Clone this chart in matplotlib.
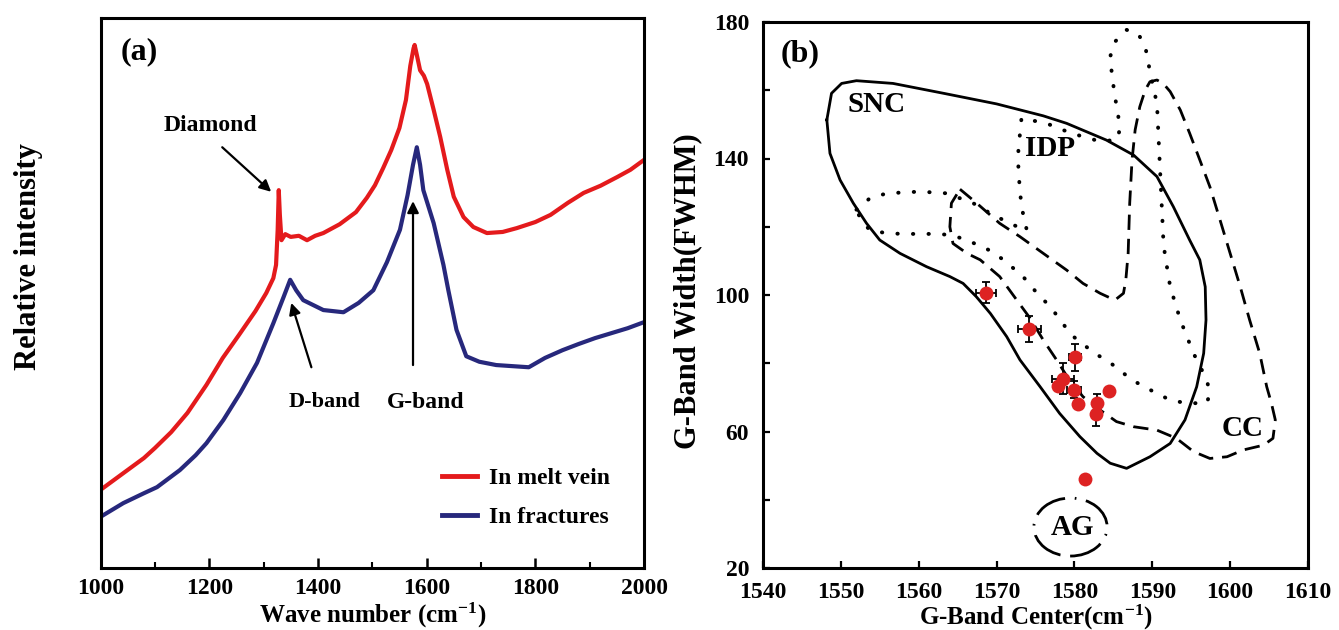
import matplotlib
matplotlib.use("Agg")
import matplotlib.pyplot as plt
from matplotlib.patches import Ellipse
from matplotlib.ticker import FixedLocator, MultipleLocator

plt.rcParams['font.family'] = ['Liberation Serif', 'DejaVu Serif']
plt.rcParams['font.weight'] = 'bold'
plt.rcParams['mathtext.fontset'] = 'custom'
plt.rcParams['mathtext.rm'] = 'Liberation Serif:bold'
plt.rcParams['mathtext.bf'] = 'Liberation Serif:bold'
plt.rcParams['mathtext.default'] = 'bf'

# ---------------- Panel (a): Raman spectra ----------------
melt_wn = [1000, 1040, 1080, 1100, 1130, 1160, 1195, 1225, 1255, 1285, 1305, 1318,
           1323, 1326, 1328, 1330, 1333, 1340, 1350, 1365, 1380, 1395, 1410, 1440,
           1470, 1490, 1505, 1520, 1535, 1550, 1562, 1570, 1576, 1578, 1582, 1588,
           1595, 1601, 1613, 1625, 1638, 1650, 1668, 1686, 1711, 1740, 1766, 1800,
           1828, 1860, 1889, 1920, 1951, 1975, 2000]
melt_int = [14.2, 17.1, 20.0, 21.8, 24.7, 28.2, 33.3, 38.2, 42.4, 46.7, 50.0, 52.7,
            55.1, 61.5, 68.7, 64.2, 59.6, 60.7, 60.2, 60.4, 59.6, 60.4, 60.9, 62.5,
            64.7, 67.3, 69.6, 72.7, 76.0, 80.0, 85.1, 91.3, 94.5, 95.1, 93.3, 90.5,
            89.5, 88.0, 83.3, 78.4, 72.4, 67.5, 63.8, 62.0, 60.9, 61.1, 61.8, 62.9,
            64.2, 66.4, 68.2, 69.5, 71.1, 72.4, 74.2]

frac_wn = [1000, 1042, 1080, 1104, 1146, 1175, 1195, 1226, 1257, 1288, 1318, 1337,
           1349, 1360, 1373, 1410, 1447, 1475, 1502, 1527, 1551, 1565, 1575, 1582,
           1588, 1594, 1613, 1631, 1640, 1655, 1673, 1697, 1728, 1758, 1788, 1818,
           1850, 1879, 1910, 1940, 1970, 2000]
frac_int = [9.3, 11.8, 13.6, 14.7, 17.8, 20.5, 22.7, 26.9, 31.8, 37.3, 44.5, 49.3,
            52.4, 50.5, 48.7, 46.9, 46.5, 48.2, 50.5, 55.6, 61.5, 67.8, 73.3, 76.5,
            73.3, 68.7, 62.7, 55.1, 50.5, 43.3, 38.5, 37.5, 36.9, 36.7, 36.5, 38.2,
            39.6, 40.7, 41.8, 42.7, 43.6, 44.7]

series_labels = ['In melt vein', 'In fractures']
series_colors = ['#e41a1c', '#27287c']

# ---------------- Panel (b): G-band parameters ----------------
g_center = [1568.6, 1574.2, 1580.1, 1578.5, 1577.9, 1579.9, 1580.5, 1582.9, 1582.8, 1584.4, 1581.4]
g_width = [100.7, 90.0, 81.7, 75.5, 73.3, 72.2, 68.0, 68.4, 65.1, 72.0, 46.2]
g_center_err = [1.3, 1.5, 0.8, 1.4, 0.0, 0.9, 0.0, 0.5, 0.4, 0.0, 0.0]
g_width_err = [3.1, 3.7, 3.9, 4.6, 0.0, 2.5, 0.0, 2.5, 3.4, 0.0, 0.0]

snc_x = [1548.2, 1548.8, 1550.1, 1552.0, 1556.7, 1563.2, 1570.0, 1576.0, 1579.0, 1584.1,
         1587.6, 1590.6, 1592.7, 1594.8, 1596.1, 1596.8, 1596.9, 1596.6, 1595.7, 1594.2,
         1592.3, 1589.7, 1586.7, 1584.6, 1582.9, 1580.7, 1578.1, 1575.6, 1573.0, 1571.3,
         1569.2, 1567.4, 1565.7, 1564.0, 1561.0, 1557.6, 1555.0, 1553.3, 1551.6, 1549.9,
         1548.6, 1548.2]
snc_y = [151.3, 159.1, 162.0, 162.8, 162.0, 159.1, 156.0, 152.5, 150.3, 145.4,
         141.0, 134.7, 125.9, 116.1, 110.3, 102.4, 92.7, 82.9, 73.1, 63.4,
         56.5, 52.6, 49.2, 50.7, 53.6, 58.5, 65.3, 73.1, 81.0, 87.8,
         94.6, 99.5, 103.4, 105.4, 108.3, 112.2, 116.1, 121.0, 126.9, 133.7,
         141.5, 151.3]

idp_x = [1552.0, 1553.7, 1555.9, 1560.2, 1563.6, 1567.0, 1569.6, 1572.2, 1573.9, 1573.2,
         1573.0, 1572.8, 1572.8, 1573.2, 1576.4, 1579.6, 1583.3, 1585.5, 1585.8, 1585.6,
         1585.2, 1584.8, 1584.6, 1585.2, 1586.7, 1588.2, 1589.1, 1589.5, 1590.1, 1590.6,
         1590.8, 1591.0, 1591.2, 1591.4, 1591.6, 1592.3, 1593.6, 1595.3, 1597.0, 1597.4,
         1597.0, 1594.4, 1592.3, 1589.3, 1587.4, 1584.4, 1582.6, 1579.6, 1576.9, 1575.4,
         1573.4, 1570.9, 1569.0, 1566.0, 1564.0, 1562.3, 1558.0, 1555.9, 1553.7, 1552.5,
         1552.0]
idp_y = [125.0, 128.3, 129.8, 130.3, 129.8, 126.9, 123.4, 120.5, 118.8, 125.9,
         130.8, 136.6, 142.5, 151.8, 150.3, 147.4, 145.0, 145.5, 148.4, 153.2,
         158.1, 164.9, 169.9, 174.2, 177.7, 176.5, 172.8, 167.9, 161.0, 156.2,
         146.4, 136.6, 126.9, 117.1, 112.2, 102.4, 92.7, 82.9, 75.1, 71.2,
         68.3, 68.3, 69.2, 72.7, 75.1, 80.5, 82.9, 88.3, 96.6, 100.0,
         105.4, 110.3, 113.2, 116.3, 117.6, 117.9, 117.9, 118.1, 119.0, 122.5,
         125.0]

cc_x = [1565.3, 1567.4, 1570.4, 1573.0, 1576.0, 1579.0, 1581.1, 1583.3, 1585.2, 1586.3,
        1586.6, 1586.9, 1587.1, 1587.4, 1587.8, 1588.4, 1589.1, 1589.7, 1590.6, 1591.4,
        1592.3, 1593.6, 1594.8, 1596.1, 1597.4, 1598.7, 1600.0, 1601.3, 1602.5, 1603.8,
        1604.7, 1605.3, 1605.8, 1605.5, 1604.3, 1601.7, 1599.6, 1597.4, 1595.3, 1593.1,
        1590.6, 1587.6, 1585.4, 1583.3, 1581.1, 1579.2, 1577.7, 1576.0, 1574.3, 1572.6,
        1570.4, 1567.9, 1566.2, 1564.4, 1564.0, 1564.2, 1565.3]
cc_y = [131.0, 127.0, 121.0, 117.1, 112.2, 107.3, 103.4, 100.5, 98.5, 100.5,
        104.4, 112.2, 126.9, 139.6, 148.4, 155.2, 160.1, 162.5, 163.0, 162.0,
        159.6, 154.2, 147.4, 139.6, 131.7, 122.0, 112.2, 102.4, 92.7, 82.9,
        73.1, 68.3, 63.4, 58.0, 56.0, 54.6, 52.6, 52.1, 54.1, 58.0,
        60.4, 61.4, 62.9, 66.3, 70.2, 75.6, 81.0, 86.8, 93.2, 98.5,
        105.4, 110.3, 112.2, 115.1, 120.0, 126.9, 131.0]

ag_center = (1579.5, 32.0)
ag_size = (9.4, 17.0)

# ---------------- Figure ----------------
fig = plt.figure(figsize=(13.39, 6.30), dpi=100)
axa = fig.add_axes([100.5 / 1339, 62 / 630, 543.5 / 1339, 550 / 630])
axb = fig.add_axes([763 / 1339, 62 / 630, 545 / 1339, 546 / 630])

tick_fs = 17

# Panel (a)
l1, = axa.plot(melt_wn, melt_int, color=series_colors[0], lw=3.0, label=series_labels[0],
               solid_joinstyle='round')
l2, = axa.plot(frac_wn, frac_int, color=series_colors[1], lw=3.0, label=series_labels[1],
               solid_joinstyle='round')
axa.set_xlim(1000, 2000)
axa.set_ylim(0, 100)
axa.xaxis.set_major_locator(MultipleLocator(200))
axa.xaxis.set_minor_locator(MultipleLocator(100))
axa.set_yticks([])
axa.tick_params(axis='x', which='major', direction='in', length=7, width=1.8,
                labelsize=tick_fs, pad=7, top=False)
axa.tick_params(axis='x', which='minor', direction='in', length=4, width=1.5, top=False)
for lab in axa.get_xticklabels():
    lab.set_fontweight('bold')
for sp in axa.spines.values():
    sp.set_linewidth(2.2)
axa.set_xlabel('Wave number (cm$^{-1}$)', fontsize=18, fontweight='bold')
axa.xaxis.set_label_coords(0.5, -0.06)
axa.set_ylabel('Relative intensity', fontsize=22, fontweight='bold')
axa.yaxis.set_label_coords(-0.106, 0.567)
axa.text(0.071, 0.938, '(a)', transform=axa.transAxes, fontsize=23, fontweight='bold',
         ha='center', va='center')

arrow_kw = dict(arrowstyle='-|>', color='black', lw=1.6, mutation_scale=17,
                shrinkA=0, shrinkB=0)
axa.annotate('', xy=(1314, 68.4), xytext=(1224, 76.5), arrowprops=arrow_kw)
axa.text(1203, 80.5, 'Diamond', fontsize=17, fontweight='bold', ha='center', va='center')
axa.annotate('', xy=(1351, 48.2), xytext=(1388, 36.5), arrowprops=arrow_kw)
axa.text(1413, 30.2, 'D-band', fontsize=16, fontweight='bold', ha='center', va='center')
axa.annotate('', xy=(1575, 66.7), xytext=(1575, 36.9), arrowprops=arrow_kw)
axa.text(1599, 30.0, 'G-band', fontsize=17, fontweight='bold', ha='center', va='center')

leg = axa.legend(handles=[l1, l2], loc='upper left', bbox_to_anchor=(0.598, 0.212),
                 frameon=False, prop={'family': 'Liberation Serif', 'weight': 'bold', 'size': 17},
                 handlelength=1.5, handletextpad=0.5, labelspacing=0.72, borderpad=0.2)
for lh in leg.get_lines():
    lh.set_linewidth(3.5)

# Panel (b)
axb.plot(snc_x, snc_y, color='black', lw=2.0, solid_joinstyle='round')
axb.plot(idp_x, idp_y, color='black', lw=2.8, linestyle=(0, (0.1, 3.9)),
         dash_capstyle='round')
axb.plot(cc_x, cc_y, color='black', lw=2.0, linestyle=(0, (5.5, 3.2)))
axb.add_patch(Ellipse(ag_center, ag_size[0], ag_size[1], fill=False, color='black',
                      lw=2.0, linestyle=(0, (12, 3.5, 0.6, 3.5))))
axb.errorbar(g_center, g_width, xerr=g_center_err, yerr=g_width_err, fmt='none',
             ecolor='black', elinewidth=1.3, capsize=3, capthick=1.3, zorder=3)
axb.plot(g_center, g_width, 'o', color='#dd2222', markersize=10, markeredgewidth=0, zorder=4)

axb.text(1554.6, 155.7, 'SNC', fontsize=21, fontweight='bold', ha='center', va='center')
axb.text(1576.9, 142.8, 'IDP', fontsize=21, fontweight='bold', ha='center', va='center')
axb.text(1601.6, 61.0, 'CC', fontsize=21, fontweight='bold', ha='center', va='center')
axb.text(1579.7, 32.0, 'AG', fontsize=21, fontweight='bold', ha='center', va='center')
axb.text(0.068, 0.941, '(b)', transform=axb.transAxes, fontsize=23, fontweight='bold',
         ha='center', va='center')

axb.set_xlim(1540, 1610)
axb.set_ylim(20, 180)
axb.xaxis.set_major_locator(MultipleLocator(10))
axb.yaxis.set_major_locator(FixedLocator([20, 60, 100, 140, 180]))
axb.yaxis.set_minor_locator(FixedLocator([40, 80, 120, 160]))
axb.tick_params(axis='both', which='major', direction='in', length=5, width=1.6,
                labelsize=tick_fs, pad=10, top=False, right=False)
axb.tick_params(axis='y', which='minor', direction='in', length=5, width=1.6, right=False)
for lab in axb.get_xticklabels() + axb.get_yticklabels():
    lab.set_fontweight('bold')
for sp in axb.spines.values():
    sp.set_linewidth(2.2)
axb.set_xlabel('G-Band Center(cm$^{-1}$)', fontsize=18, fontweight='bold')
axb.xaxis.set_label_coords(0.5, -0.064)
axb.set_ylabel('G-Band Width(FWHM)', fontsize=22, fontweight='bold')
axb.yaxis.set_label_coords(-0.112, 0.507)

fig.savefig('out.png', dpi=100)
